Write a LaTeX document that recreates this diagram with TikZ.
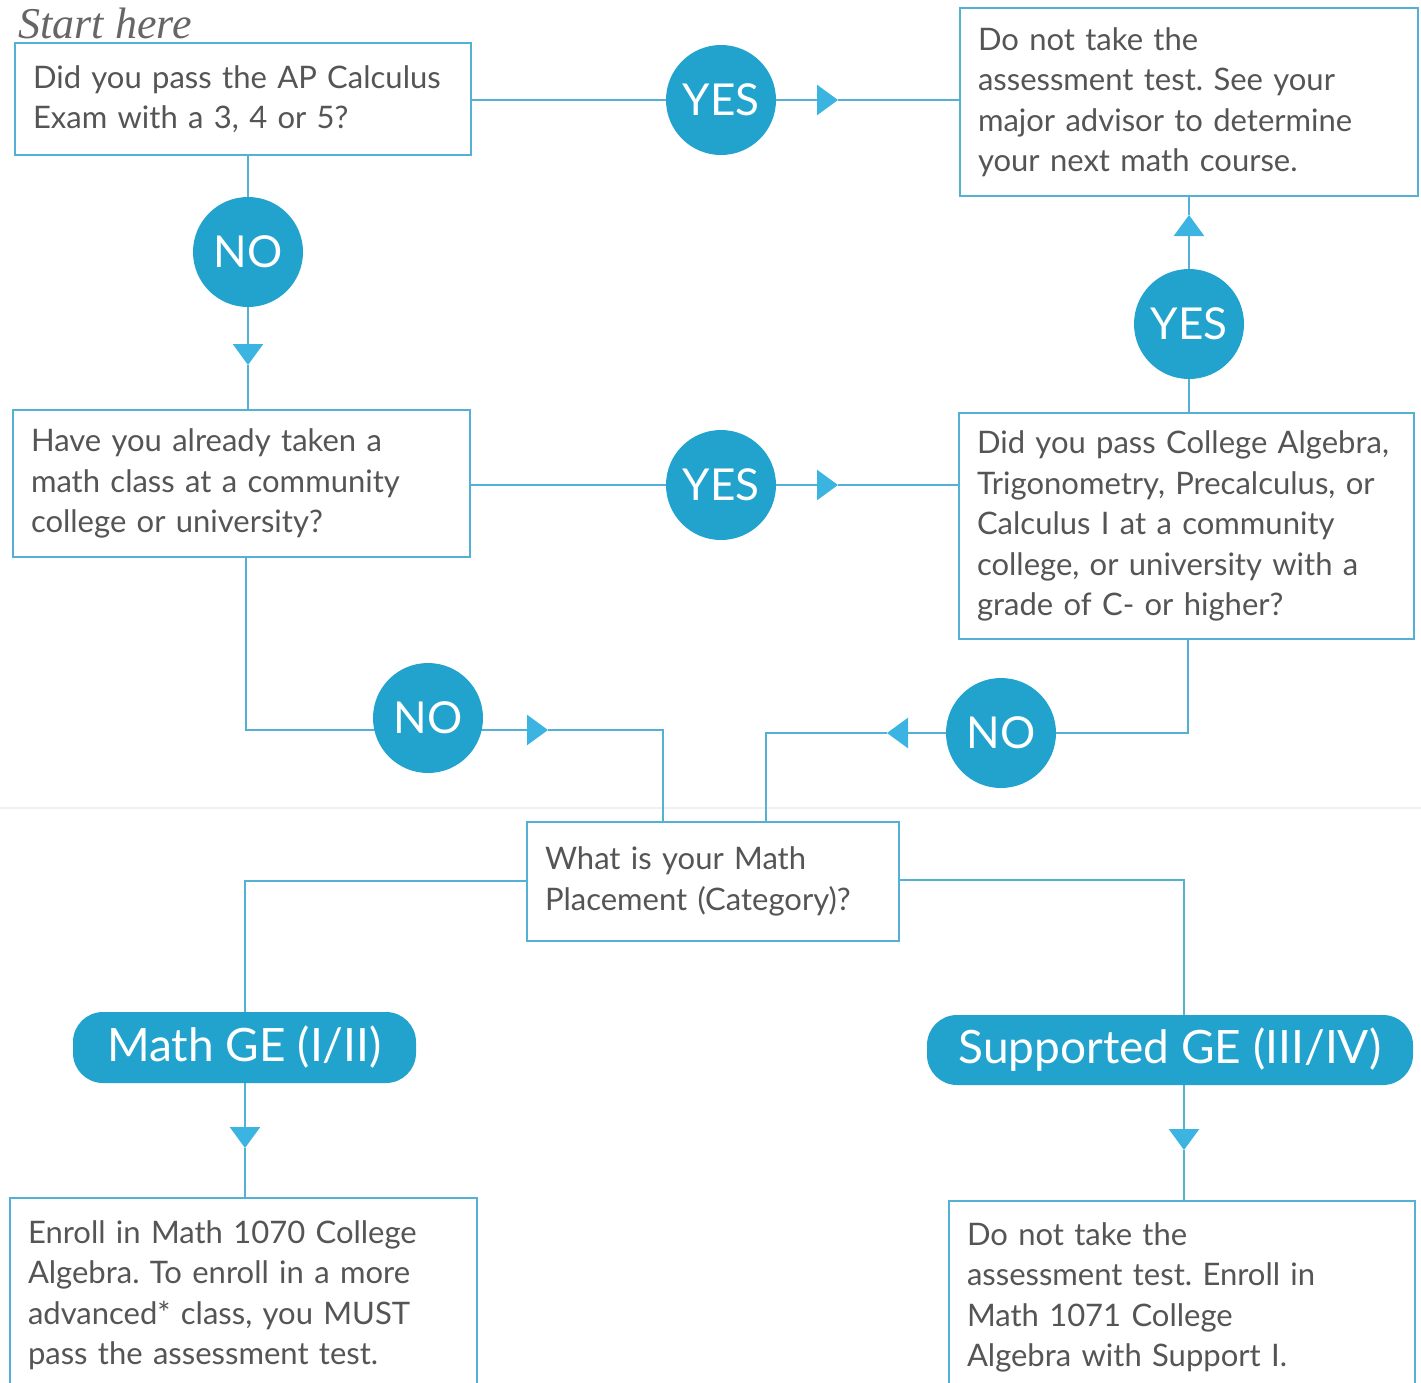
\documentclass[tikz,border=0pt]{standalone}
\usepackage{fontspec}
\setmainfont{Lato}
\newfontfamily\startfont{Liberation Serif}
\usetikzlibrary{arrows.meta,backgrounds}
\definecolor{lineblue}{RGB}{84,176,212}
\definecolor{fillblue}{RGB}{33,163,206}
\definecolor{tipblue}{RGB}{60,180,226}
\definecolor{txtgray}{RGB}{85,85,85}
\frenchspacing
\begin{document}
\begin{tikzpicture}[x=1pt,y=-1pt,
  qbox/.style={draw=lineblue, line width=2.5pt, fill=white, text=txtgray,
    align=left, inner xsep=18pt, inner ysep=0pt,
    font=\fontsize{31}{40.5}\selectfont},
  ans/.style={circle, fill=fillblue, text=white, minimum size=110pt, inner sep=0pt,
    font=\fontsize{44}{44}\selectfont},
  pill/.style={rectangle, rounded corners=30pt, fill=fillblue, text=white, inner sep=0pt,
    font=\fontsize{46}{46}\selectfont},
  conn/.style={draw=lineblue, line width=2.5pt},
  tipped/.style={conn, -{Triangle[length=21pt,width=30pt,color=tipblue,fill=tipblue]}}
]
\path[use as bounding box] (0,0) rectangle (1421,1382);
\clip (0,0) rectangle (1421,1382);

% boxes
\node[anchor=base west, text=txtgray!90, font=\startfont\itshape\fontsize{44}{44}\selectfont] (start) at (15,38) {Start here};
\node[qbox, minimum width=456pt, minimum height=112pt, text width=420pt] (q1) at (243,99)
  {Did you pass the AP Calculus\\Exam with a 3, 4 or 5?};
\node[qbox, minimum width=458pt, minimum height=188pt, text width=422pt] (r1) at (1189,102)
  {Do not take the\\assessment test. See your\\major advisor to determine\\your next math course.};
\node[qbox, minimum width=457pt, minimum height=147pt, text width=421pt] (q2) at (241.5,483.5)
  {Have you already taken a\\math class at a community\\college or university?};
\node[qbox, minimum width=455pt, minimum height=226pt, text width=419pt] (q3) at (1186.5,526)
  {Did you pass College Algebra,\\Trigonometry, Precalculus, or\\Calculus I at a community\\college, or university with a\\grade of C- or higher?};
\node[qbox, minimum width=372pt, minimum height=119pt, text width=336pt] (q4) at (713,881.5)
  {What is your Math\\Placement (Category)?};
\node[qbox, minimum width=467pt, minimum height=194pt, text width=431pt] (r2) at (243.5,1295)
  {Enroll in Math 1070 College\\Algebra. To enroll in a more\\advanced* class, you MUST\\pass the assessment test.};
\node[qbox, minimum width=466pt, minimum height=193pt, text width=430pt] (r3) at (1182,1297.5)
  {Do not take the\\assessment test. Enroll in\\Math 1071 College\\Algebra with Support I.};

% answer circles
\node[ans] (yes1) at (721,100) {YES};
\node[ans] (no1) at (248,252) {NO};
\node[ans] (yes2) at (721,485) {YES};
\node[ans] (yes3) at (1189,324) {YES};
\node[ans] (no2) at (428,718) {NO};
\node[ans] (no3) at (1001,733) {NO};

% pills
\node[pill, minimum width=343pt, minimum height=71pt] (ge1) at (244.5,1047.5) {Math GE (I/II)};
\node[pill, minimum width=486pt, minimum height=70pt] (ge2) at (1170,1050) {Supported GE (III/IV)};

% coordinates
\coordinate (t1) at (838,100);
\coordinate (t2) at (248,365);
\coordinate (t3) at (838,485);
\coordinate (t4) at (1189,215);
\coordinate (b1) at (246,730);
\coordinate (t5) at (548,730);
\coordinate (b2) at (663,730);
\coordinate (b3) at (1188,733);
\coordinate (t6) at (887,733);
\coordinate (b4) at (766,733);
\coordinate (b5) at (245,881);
\coordinate (t7) at (245,1148);
\coordinate (b6) at (1184,880);
\coordinate (t8) at (1184,1150);

\begin{scope}[on background layer]
\draw[gray!12, line width=1.5pt] (0,808) -- (1421,808);
% 1
\draw[conn] (q1.east |- yes1) -- (yes1);
\draw[tipped] (yes1) -- (t1);
\draw[conn] (t1) -- (t1 -| r1.west);
% 2
\draw[conn] (no1 |- q1.south) -- (no1);
\draw[tipped] (no1) -- (t2);
\draw[conn] (t2) -- (t2 |- q2.north);
% 3
\draw[conn] (q2.east |- yes2) -- (yes2);
\draw[tipped] (yes2) -- (t3);
\draw[conn] (t3) -- (t3 -| q3.west);
% 4
\draw[conn] (yes3 |- q3.north) -- (yes3);
\draw[tipped] (yes3) -- (t4);
\draw[conn] (t4) -- (t4 |- r1.south);
% 5
\draw[conn] (b1 |- q2.south) -- (b1) -- (no2 |- b1);
\draw[tipped] (no2 |- b1) -- (t5);
\draw[conn] (t5) -- (b2) -- (b2 |- q4.north);
% 6
\draw[conn] (b3 |- q3.south) -- (b3) -- (no3 |- b3);
\draw[tipped] (no3 |- b3) -- (t6);
\draw[conn] (t6) -- (b4) -- (b4 |- q4.north);
% 7
\draw[conn] (q4.west |- b5) -- (b5) -- (b5 |- ge1.north);
\draw[tipped] (t7 |- ge1.south) -- (t7);
\draw[conn] (t7) -- (t7 |- r2.north);
% 8
\draw[conn] (q4.east |- b6) -- (b6) -- (b6 |- ge2.north);
\draw[tipped] (t8 |- ge2.south) -- (t8);
\draw[conn] (t8) -- (t8 |- r3.north);
\end{scope}
\end{tikzpicture}
\end{document}
